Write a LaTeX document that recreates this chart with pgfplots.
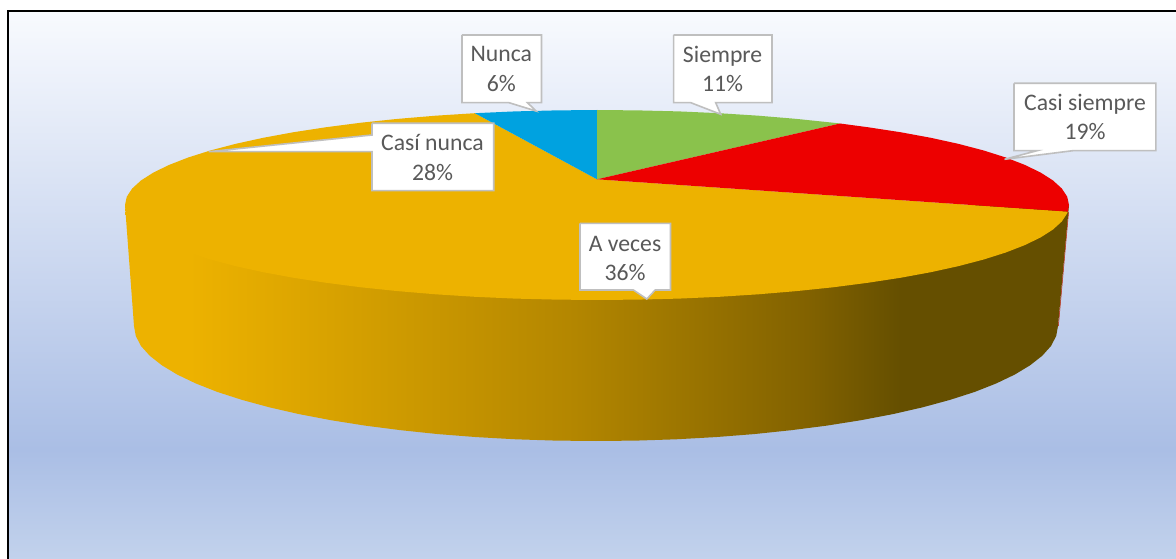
\documentclass[border=0pt]{standalone}
\usepackage{fontspec}
\setmainfont{Carlito}
\usepackage{pgfplots}
\pgfplotsset{compat=1.18}
\definecolor{bgA}{HTML}{C2D2EC}
\definecolor{bgB}{HTML}{AABEE5}
\definecolor{bgC}{HTML}{F8FAFE}
\definecolor{sA}{HTML}{EDB200}
\definecolor{sB}{HTML}{D09C00}
\definecolor{sC}{HTML}{B38600}
\definecolor{sD}{HTML}{9A7400}
\definecolor{sE}{HTML}{826200}
\definecolor{sF}{HTML}{654F00}
\definecolor{slBlue}{HTML}{00A2E0}
\definecolor{slGreen}{HTML}{8AC24C}
\definecolor{slRed}{HTML}{ED0000}
\definecolor{slYellow}{HTML}{EDB200}
\definecolor{calloutLine}{HTML}{BFBFBF}
\definecolor{labelText}{HTML}{595959}
\pgfdeclareverticalshading{bgshade}{100bp}{color(0bp)=(bgA); color(25bp)=(bgA); color(35bp)=(bgB); color(75bp)=(bgC); color(100bp)=(bgC)}
\pgfdeclarehorizontalshading{sideshade}{100bp}{color(0bp)=(sA); color(28.4bp)=(sA); color(38.7bp)=(sB); color(48.8bp)=(sC); color(55bp)=(sD); color(61.1bp)=(sE); color(66.1bp)=(sF); color(100bp)=(sF)}
\tikzset{
  callout/.style={fill=white, draw=calloutLine, line width=1.6pt, line join=miter, mark=none},
  lab/.style={align=center, text=labelText, font=\fontsize{23.7}{29.5}\selectfont, inner sep=0pt},
}
\begin{document}
\begin{tikzpicture}
\begin{axis}[
  scale only axis, width=1176pt, height=559pt,
  xmin=0, xmax=1176, ymin=0, ymax=559, y dir=reverse,
  hide axis, clip=true,
]
% page area
\addplot[fill=white, draw=none, mark=none] coordinates {(0,0)(1176,0)(1176,559)(0,559)(0,0)};
% background
\addplot[shade, shading=bgshade, draw=none, mark=none] coordinates {(8,12)(1176,12)(1176,559)(8,559)(8,12)};
% frame
\addplot[black, line width=2.2pt, mark=none] coordinates {(8,559)(8,11)(1176,11)};
% side wall
\addplot[shade, shading=sideshade, draw=none, mark=none] coordinates {
(125,205)(134,326)(135.8,336)(141,346)(149.8,355.8)(161.9,365.3)(177.3,374.6)(195.9,383.5)(217.5,392)(242.1,399.9)(269.3,407.3)(299,414.1)(331,420.2)(365,425.6)(400.8,430.2)(438,434.1)(476.4,437.1)(515.8,439.3)(555.7,440.6)(596,441)(636.3,440.6)(676.2,439.3)(715.6,437.1)(754,434.1)(791.2,430.2)(827,425.6)(861,420.2)(893,414.1)(922.7,407.3)(949.9,399.9)(974.5,392)(996.1,383.5)(1014.7,374.6)(1030.1,365.3)(1042.2,355.8)(1051,346)(1056.2,336)(1058,326)(1069,205)(125,205)};
\addplot[color=slRed!60!sF, line width=0.5pt, mark=none] coordinates {(1068.6,212)(1058.4,326)};
% A veces + Casi nunca (same colour)
\addplot[fill=slYellow, draw=none, mark=none] coordinates {
(597,179.3)(1067.8,211.6)(1067.2,213.3)(1061.8,221.5)(1052.9,229.6)(1040.5,237.5)(1024.8,245.1)(1005.8,252.5)(983.7,259.5)(958.6,266.1)(930.8,272.2)(900.4,277.8)(867.7,282.8)(833,287.3)(796.5,291.1)(758.4,294.3)(719.2,296.8)(678.9,298.6)(638.2,299.6)(597,300)(555.8,299.6)(515.1,298.6)(474.8,296.8)(435.6,294.3)(397.5,291.1)(361,287.3)(326.3,282.8)(293.6,277.8)(263.2,272.2)(235.4,266.1)(210.3,259.5)(188.2,252.5)(169.2,245.1)(153.5,237.5)(141.1,229.6)(132.2,221.5)(126.8,213.3)(125,205)(126.8,196.7)(132.2,188.5)(141.1,180.4)(153.5,172.5)(169.2,164.9)(188.2,157.5)(210.3,150.5)(235.4,143.9)(263.2,137.8)(293.6,132.2)(326.3,127.2)(361,122.7)(397.5,118.9)(435.6,115.7)(474.8,113.2)(597,179.3)};
% Nunca
\addplot[fill=slBlue, draw=none, mark=none] coordinates {(597,179.3)(474.8,113.2)(515.1,111.4)(555.8,110.4)(597,110)(597,179.3)};
% Siempre
\addplot[fill=slGreen, draw=none, mark=none] coordinates {(597,179.3)(597,110)(638.2,110.4)(678.9,111.4)(719.2,113.2)(758.4,115.7)(796.5,118.9)(833,122.7)(840,123.5)(597,179.3)};
% Casi siempre
\addplot[fill=slRed, draw=none, mark=none] coordinates {(597,179.3)(840,123.5)(867.7,127.2)(900.4,132.2)(930.8,137.8)(958.6,143.9)(983.7,150.5)(1005.8,157.5)(1024.8,164.9)(1040.5,172.5)(1052.9,180.4)(1061.8,188.5)(1067.2,196.7)(1069,205)(1067.8,211.6)(597,179.3)};
% callouts
\addplot[callout] coordinates {(462,35)(541.5,35)(541.5,102.7)(527.5,102.7)(536,111)(509,102.7)(462,102.7)(462,35)};
\addplot[callout] coordinates {(673.6,35)(772,35)(772,102.7)(715.7,102.7)(720.7,114.3)(690.8,102.7)(673.6,102.7)(673.6,35)};
\addplot[callout] coordinates {(1014,83.3)(1155.8,83.3)(1155.8,150.7)(1072.7,150.7)(1004.6,159.3)(1037,150.7)(1014,150.7)(1014,83.3)};
\addplot[callout] coordinates {(372,123.3)(493.7,123.3)(493.7,190.7)(372,190.7)(372,151.7)(208.6,151.7)(372,135)(372,123.3)};
\addplot[callout] coordinates {(580,223.3)(670.5,223.3)(670.5,290)(655.2,290)(646.8,299)(633.4,290)(580,290)(580,223.3)};
% labels
\node[lab] at (axis cs:501.3,69) {Nunca\\6\%};
\node[lab] at (axis cs:722.6,69) {Siempre\\11\%};
\node[lab] at (axis cs:1085,117) {Casi siempre\\19\%};
\node[lab] at (axis cs:432.5,157.7) {Casí nunca\\28\%};
\node[lab] at (axis cs:625,258.3) {A veces\\36\%};
\end{axis}
\end{tikzpicture}
\end{document}
